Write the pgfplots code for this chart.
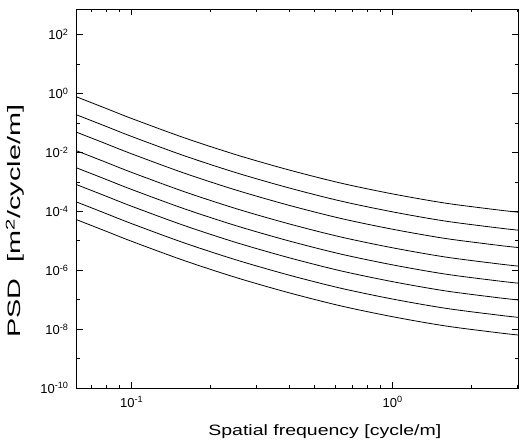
\documentclass[border=0pt]{standalone}
\usepackage{fontspec}
\setmainfont{Liberation Sans}
\usepackage{graphicx}
\usepackage{pgfplots}
\pgfplotsset{compat=1.18}
\usepackage{pgfplotstable}
\pgfplotstableread{
x      c0        c1        c2        c3        c4        c5        c6        c7
0.0617 7.586e-1  1.862e-1  4.786e-2  1.122e-2  2.951e-3  7.943e-4  2.042e-4  5.129e-5
0.0794 3.162e-1  7.762e-2  1.995e-2  4.677e-3  1.230e-3  3.311e-4  8.511e-5  2.138e-5
0.1    1.413e-1  3.467e-2  8.913e-3  2.089e-3  5.495e-4  1.479e-4  3.802e-5  9.550e-6
0.1585 3.162e-2  7.762e-3  1.995e-3  4.677e-4  1.230e-4  3.311e-5  8.511e-6  2.138e-6
0.2512 8.318e-3  2.042e-3  5.248e-4  1.230e-4  3.236e-5  8.710e-6  2.239e-6  5.623e-7
0.3981 2.570e-3  6.310e-4  1.622e-4  3.802e-5  1.000e-5  2.692e-6  6.918e-7  1.738e-7
0.6310 9.120e-4  2.239e-4  5.754e-5  1.349e-5  3.548e-6  9.550e-7  2.455e-7  6.166e-8
1.0    3.890e-4  9.550e-5  2.455e-5  5.754e-6  1.514e-6  4.074e-7  1.047e-7  2.630e-8
1.585  1.905e-4  4.677e-5  1.202e-5  2.818e-6  7.413e-7  1.995e-7  5.129e-8  1.288e-8
2.512  1.122e-4  2.754e-5  7.079e-6  1.660e-6  4.365e-7  1.175e-7  3.020e-8  7.586e-9
3.02   9.333e-5  2.291e-5  5.888e-6  1.380e-6  3.631e-7  9.772e-8  2.512e-8  6.310e-9
}\psd
\begin{document}
\begin{tikzpicture}
\begin{loglogaxis}[
  scale only axis, width=441pt, height=379pt,
  xmin=0.0617, xmax=3.02, ymin=1e-10, ymax=7.4e2,
  xtick={0.1,1},
  xticklabels={10\textsuperscript{-1},10\textsuperscript{0}},
  ytick={1e-10,1e-8,1e-6,1e-4,1e-2,1,1e2},
  yticklabels={10\textsuperscript{-10},10\textsuperscript{-8},10\textsuperscript{-6},10\textsuperscript{-4},10\textsuperscript{-2},10\textsuperscript{0},10\textsuperscript{2}},
  minor xtick={0.07,0.08,0.09,0.2,0.3,0.4,0.5,0.6,0.7,0.8,0.9,2,3},
  minor ytick={1e-9,1e-7,1e-5,1e-3,1e-1,1e1},
  tick align=inside, major tick length=6pt, minor tick length=3pt,
  axis line style={line width=1pt},
  tick style={black, line width=0.6pt},
  ticklabel style={font=\fontsize{13}{15}\selectfont},
  yticklabel style={xshift=-5pt},
  xticklabel style={yshift=-5pt},
  xlabel={\scalebox{1.3}[1]{Spatial frequency [cycle/m]}},
  xlabel style={font=\fontsize{15}{18}\selectfont, at={(axis description cs:0.562,-0.116)}, anchor=center},
  ylabel={\scalebox{1.6}[1]{PSD\ \ [m\textsuperscript{2}/cycle/m]}},
  ylabel style={font=\fontsize{18}{21}\selectfont, at={(axis description cs:-0.14,0.44)}, anchor=center, rotate=0},
]
\addplot[black, line width=0.8pt, smooth] table[x=x, y=c0] {\psd};
\addplot[black, line width=0.8pt, smooth] table[x=x, y=c1] {\psd};
\addplot[black, line width=0.8pt, smooth] table[x=x, y=c2] {\psd};
\addplot[black, line width=0.8pt, smooth] table[x=x, y=c3] {\psd};
\addplot[black, line width=0.8pt, smooth] table[x=x, y=c4] {\psd};
\addplot[black, line width=0.8pt, smooth] table[x=x, y=c5] {\psd};
\addplot[black, line width=0.8pt, smooth] table[x=x, y=c6] {\psd};
\addplot[black, line width=0.8pt, smooth] table[x=x, y=c7] {\psd};
\end{loglogaxis}
\pgfresetboundingbox
\path ([shift={(-77pt,-56pt)}]current axis.south west) rectangle ([shift={(4pt,9pt)}]current axis.north east);
\end{tikzpicture}
\end{document}
